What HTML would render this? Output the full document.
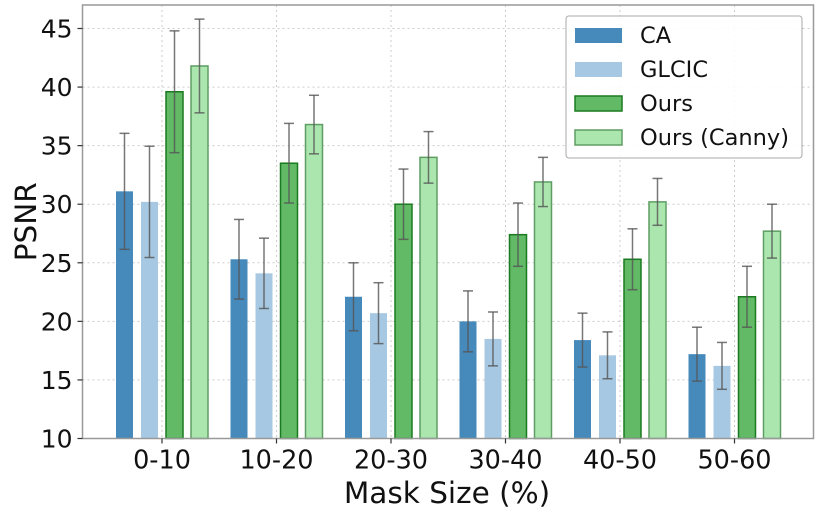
<!DOCTYPE html>
<html><head><meta charset="utf-8"><style>
body{margin:0;background:#fff}
svg text{font-family:"DejaVu Sans","Liberation Sans",sans-serif;fill:#111}
</style></head><body>
<svg id="chart" width="830" height="510" viewBox="0 0 830 510" xmlns="http://www.w3.org/2000/svg"></svg>
<script>
const categories=["0-10","10-20","20-30","30-40","40-50","50-60"];
const seriesNames=["CA","GLCIC","Ours","Ours (Canny)"];
const caValues=[31.1,25.3,22.1,20.0,18.4,17.2];
const glcicValues=[30.2,24.1,20.7,18.5,17.1,16.2];
const oursValues=[39.6,33.5,30.0,27.4,25.3,22.1];
const cannyValues=[41.8,36.8,34.0,31.9,30.2,27.7];
const caErr=[4.95,3.4,2.9,2.6,2.3,2.3];
const glcicErr=[4.75,3.0,2.6,2.3,2.0,2.0];
const oursErr=[5.2,3.4,3.0,2.7,2.6,2.6];
const cannyErr=[4.0,2.5,2.2,2.1,2.0,2.3];
const yTicks=[10,15,20,25,30,35,40,45];

const svg=document.getElementById('chart');
const NS="http://www.w3.org/2000/svg";
function mk(tag,attrs,parent){const e=document.createElementNS(NS,tag);for(const k in attrs)e.setAttribute(k,attrs[k]);(parent||svg).appendChild(e);return e;}
const L=82.5,R=813.5,T=5,B=438.5;
const y=v=>B-(v-10)*(410/35);
const x0=162,step=114.5;
const xc=i=>x0+i*step;
const bw=17;
const offsets=[-37.5,-12.5,12.5,37.5];
const fills=["#4689bb","#a7c8e2","#62b966","#abe6ae"];
const strokes=["none","none","#1a7a1f","#5e9e62"];
const allVals=[caValues,glcicValues,oursValues,cannyValues];
const allErr=[caErr,glcicErr,oursErr,cannyErr];

yTicks.forEach(t=>{
  const g=mk('line',{x1:L,x2:R,y1:y(t),y2:y(t),stroke:'#ccc','stroke-dasharray':'2,3','stroke-width':1});
  
  
});
categories.forEach((c,i)=>{
  const g=mk('line',{x1:xc(i),x2:xc(i),y1:T,y2:B,stroke:'#ccc','stroke-dasharray':'2,3','stroke-width':1});
  
  
});
allVals.forEach((vals,s)=>{
  vals.forEach((v,i)=>{
    const bx=xc(i)+offsets[s]-bw/2;
    const r=mk('rect',{x:bx,y:y(v),width:bw,height:B-y(v),fill:fills[s],stroke:strokes[s],'stroke-width':1.5});
    
    
    const e=allErr[s][i],cx=xc(i)+offsets[s];
    const eg=mk('g',{stroke:'#555','stroke-opacity':0.8,'stroke-width':1.5});
    
    
    mk('line',{x1:cx,x2:cx,y1:y(v-e),y2:y(v+e)},eg);
    mk('line',{x1:cx-5,x2:cx+5,y1:y(v-e),y2:y(v-e)},eg);
    mk('line',{x1:cx-5,x2:cx+5,y1:y(v+e),y2:y(v+e)},eg);
  });
});
const fr=mk('rect',{x:L,y:T,width:R-L,height:B-T,fill:'none',stroke:'#999','stroke-width':1.5});


yTicks.forEach(t=>{
  mk('line',{x1:L-5,x2:L,y1:y(t),y2:y(t),stroke:'#333','stroke-width':1.2});
  const tx=mk('text',{x:L-10,y:y(t)+9,'text-anchor':'end','font-size':25});
  tx.textContent=t;
  
  
});
categories.forEach((c,i)=>{
  mk('line',{x1:xc(i),x2:xc(i),y1:B,y2:B+5,stroke:'#333','stroke-width':1.2});
  const tx=mk('text',{x:xc(i),y:B+30,'text-anchor':'middle','font-size':25.5});
  tx.textContent=c;
  
  
});
const yl=mk('text',{x:0,y:0,'text-anchor':'middle','font-size':29.5,transform:'translate(36,'+((T+B)/2)+') rotate(-90)'});
yl.textContent='PSNR';


const xl=mk('text',{x:447,y:503,'text-anchor':'middle','font-size':29.5});
xl.textContent='Mask Size (%)';


const lg=mk('g',{});


mk('rect',{x:566,y:16,width:236,height:142,rx:3,fill:'#fff','fill-opacity':0.9,stroke:'#aaa','stroke-width':1},lg);
seriesNames.forEach((n,s)=>{
  const ry=28+s*34;
  const p=mk('rect',{x:575,y:ry,width:47,height:15,fill:fills[s],stroke:strokes[s],'stroke-width':1.5},lg);
  
  
  const t=mk('text',{x:640,y:ry+15,'font-size':22.5},lg);
  t.textContent=n;
  
  
});
</script>
</body></html>
